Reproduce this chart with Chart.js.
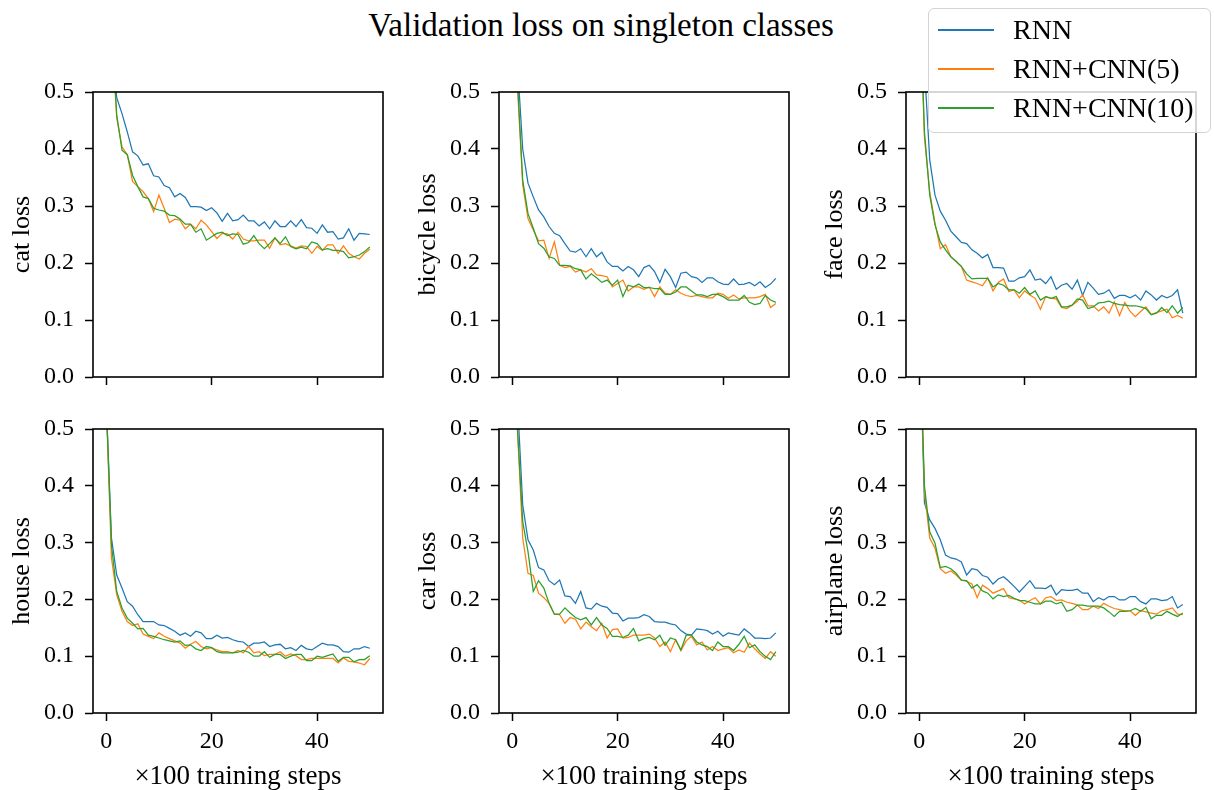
<!DOCTYPE html>
<html>
<head>
<meta charset="utf-8">
<script src="https://cdn.jsdelivr.net/npm/chart.js@4.4.1/dist/chart.umd.min.js"></script>
<style>
  html, body { margin: 0; padding: 0; background: #fff; }
  body { width: 1214px; height: 790px; position: relative; overflow: hidden; font-family: 'Liberation Serif', serif; color: #000; }
  canvas { position: absolute; }
  #title { position: absolute; left: 0; width: 1202px; top: 6px; text-align: center; font-size: 33px; line-height: 38px; }
  #legend { position: absolute; left: 928px; top: 8px; width: 283px; height: 125px; box-sizing: border-box;
            border: 1.5px solid #d4d4d4; border-radius: 6px; background: rgba(255,255,255,0.8); z-index: 5; }
  .lg-row { position: absolute; left: 0; height: 30px; }
  .lg-line { position: absolute; left: 9px; width: 56px; top: 14px; height: 1.5px; }
  .lg-text { position: absolute; left: 84px; top: -1px; font-size: 28px; line-height: 32px; white-space: nowrap; }
</style>
</head>
<body>
<div id="title">Validation loss on singleton classes</div>
<div id="legend"></div>
<script>
// Pasos de entrenamiento (x100) y pérdidas.
const STEPS = [0, 1, 2, 3, 4, 5, 6, 7, 8, 9, 10, 11, 12, 13, 14, 15, 16, 17, 18, 19, 20,
  21, 22, 23, 24, 25, 26, 27, 28, 29, 30, 31, 32, 33, 34, 35, 36, 37, 38, 39, 40,
  41, 42, 43, 44, 45, 46, 47, 48, 49, 50];
const X_TICKS = [0, 20, 40];
const Y_TICKS = [0, 0.1, 0.2, 0.3, 0.4, 0.5];

const SERIES_NAMES = ['RNN', 'RNN+CNN(5)', 'RNN+CNN(10)'];
const CLASSES = ['cat', 'bicycle', 'face', 'house', 'car', 'airplane'];

const CAT_RNN = [0.85, 0.58, 0.49, 0.462, 0.43, 0.395, 0.388, 0.372, 0.374, 0.353, 0.351, 0.336, 0.332, 0.316, 0.322, 0.315, 0.299, 0.299, 0.298, 0.292, 0.297,
  0.288, 0.273, 0.287, 0.274, 0.276, 0.284, 0.274, 0.274, 0.265, 0.272, 0.260, 0.274, 0.264, 0.264, 0.274, 0.264, 0.276, 0.262, 0.261, 0.252,
  0.267, 0.254, 0.255, 0.242, 0.244, 0.260, 0.240, 0.252, 0.251, 0.250];
const CAT_CNN5 = [0.85, 0.61, 0.454, 0.404, 0.39, 0.343, 0.334, 0.325, 0.313, 0.29, 0.319, 0.296, 0.271, 0.277, 0.275, 0.26, 0.268, 0.26, 0.275, 0.267, 0.255,
  0.243, 0.252, 0.251, 0.242, 0.254, 0.242, 0.239, 0.239, 0.24, 0.24, 0.226, 0.244, 0.232, 0.234, 0.23, 0.226, 0.23, 0.229, 0.217, 0.229,
  0.222, 0.232, 0.232, 0.217, 0.23, 0.217, 0.211, 0.207, 0.217, 0.224];
const CAT_CNN10 = [0.85, 0.62, 0.46, 0.398, 0.39, 0.354, 0.334, 0.316, 0.313, 0.296, 0.293, 0.291, 0.284, 0.283, 0.277, 0.268, 0.268, 0.254, 0.26, 0.24, 0.246,
  0.252, 0.254, 0.248, 0.251, 0.25, 0.233, 0.236, 0.248, 0.234, 0.225, 0.234, 0.244, 0.234, 0.246, 0.229, 0.225, 0.228, 0.225, 0.237, 0.234,
  0.223, 0.225, 0.222, 0.222, 0.22, 0.209, 0.211, 0.214, 0.22, 0.228];

const BICYCLE_RNN = [0.8, 0.55, 0.40, 0.34, 0.316, 0.293, 0.281, 0.264, 0.252, 0.248, 0.234, 0.221, 0.219, 0.225, 0.211, 0.225, 0.211, 0.219, 0.202, 0.194, 0.194,
  0.186, 0.194, 0.188, 0.176, 0.192, 0.196, 0.185, 0.166, 0.189, 0.176, 0.157, 0.182, 0.184, 0.176, 0.174, 0.166, 0.174, 0.174, 0.167, 0.163,
  0.162, 0.172, 0.162, 0.163, 0.166, 0.16, 0.167, 0.157, 0.163, 0.173];
const BICYCLE_CNN5 = [0.75, 0.51, 0.337, 0.278, 0.258, 0.239, 0.24, 0.208, 0.237, 0.196, 0.192, 0.194, 0.184, 0.188, 0.184, 0.19, 0.179, 0.178, 0.176, 0.158, 0.164,
  0.17, 0.151, 0.158, 0.158, 0.154, 0.158, 0.141, 0.158, 0.147, 0.145, 0.153, 0.147, 0.143, 0.141, 0.143, 0.141, 0.139, 0.139, 0.147, 0.145,
  0.138, 0.144, 0.137, 0.139, 0.139, 0.139, 0.141, 0.145, 0.122, 0.129];
const BICYCLE_CNN10 = [0.75, 0.52, 0.345, 0.287, 0.261, 0.234, 0.226, 0.211, 0.208, 0.196, 0.196, 0.195, 0.19, 0.188, 0.172, 0.181, 0.174, 0.166, 0.17, 0.161, 0.17,
  0.141, 0.161, 0.158, 0.163, 0.157, 0.157, 0.155, 0.155, 0.145, 0.145, 0.149, 0.158, 0.158, 0.151, 0.144, 0.144, 0.141, 0.145, 0.145, 0.141,
  0.135, 0.135, 0.135, 0.143, 0.131, 0.127, 0.129, 0.143, 0.135, 0.131];

const FACE_RNN = [0.75, 0.545, 0.381, 0.319, 0.291, 0.275, 0.256, 0.246, 0.236, 0.234, 0.223, 0.217, 0.209, 0.215, 0.192, 0.192, 0.191, 0.168, 0.168, 0.174, 0.176,
  0.188, 0.17, 0.172, 0.164, 0.176, 0.154, 0.161, 0.164, 0.154, 0.17, 0.143, 0.166, 0.156, 0.145, 0.147, 0.153, 0.138, 0.143, 0.143, 0.139,
  0.144, 0.135, 0.151, 0.144, 0.135, 0.143, 0.139, 0.143, 0.153, 0.112];
const FACE_CNN5 = [0.7, 0.42, 0.325, 0.27, 0.225, 0.232, 0.211, 0.202, 0.194, 0.17, 0.167, 0.164, 0.16, 0.174, 0.151, 0.166, 0.172, 0.15, 0.153, 0.139, 0.151,
  0.144, 0.138, 0.119, 0.141, 0.138, 0.137, 0.122, 0.12, 0.126, 0.133, 0.144, 0.125, 0.125, 0.116, 0.123, 0.112, 0.132, 0.108, 0.131, 0.115,
  0.106, 0.115, 0.123, 0.11, 0.113, 0.116, 0.119, 0.104, 0.108, 0.103];
const FACE_CNN10 = [0.7, 0.43, 0.319, 0.267, 0.237, 0.223, 0.211, 0.203, 0.194, 0.181, 0.172, 0.173, 0.173, 0.173, 0.158, 0.164, 0.161, 0.153, 0.153, 0.147, 0.157,
  0.145, 0.151, 0.135, 0.141, 0.138, 0.141, 0.123, 0.123, 0.126, 0.137, 0.135, 0.12, 0.123, 0.13, 0.131, 0.133, 0.129, 0.127, 0.126, 0.125,
  0.125, 0.123, 0.12, 0.109, 0.112, 0.122, 0.113, 0.125, 0.112, 0.122];

const HOUSE_RNN = [0.55, 0.308, 0.243, 0.22, 0.196, 0.188, 0.173, 0.161, 0.161, 0.161, 0.155, 0.154, 0.149, 0.144, 0.137, 0.141, 0.135, 0.144, 0.141, 0.131, 0.131,
  0.137, 0.132, 0.133, 0.129, 0.126, 0.125, 0.117, 0.123, 0.123, 0.125, 0.117, 0.12, 0.121, 0.113, 0.115, 0.11, 0.119, 0.113, 0.111, 0.117,
  0.123, 0.12, 0.12, 0.117, 0.108, 0.107, 0.113, 0.113, 0.117, 0.114];
const HOUSE_CNN5 = [0.55, 0.273, 0.208, 0.179, 0.161, 0.154, 0.157, 0.139, 0.135, 0.131, 0.141, 0.135, 0.131, 0.127, 0.123, 0.114, 0.121, 0.126, 0.117, 0.113, 0.115,
  0.111, 0.108, 0.108, 0.106, 0.11, 0.106, 0.117, 0.106, 0.108, 0.101, 0.103, 0.103, 0.108, 0.1, 0.104, 0.101, 0.094, 0.094, 0.096, 0.096,
  0.096, 0.096, 0.096, 0.088, 0.097, 0.091, 0.09, 0.088, 0.085, 0.096];
const HOUSE_CNN10 = [0.55, 0.296, 0.214, 0.185, 0.167, 0.158, 0.148, 0.149, 0.137, 0.135, 0.132, 0.129, 0.127, 0.125, 0.127, 0.119, 0.12, 0.113, 0.11, 0.117, 0.115,
  0.108, 0.106, 0.106, 0.106, 0.107, 0.11, 0.107, 0.1, 0.1, 0.108, 0.098, 0.103, 0.103, 0.096, 0.1, 0.103, 0.103, 0.092, 0.092, 0.1,
  0.098, 0.101, 0.104, 0.091, 0.098, 0.098, 0.09, 0.094, 0.094, 0.101];

const CAR_RNN = [0.8, 0.55, 0.366, 0.305, 0.287, 0.256, 0.252, 0.233, 0.226, 0.234, 0.206, 0.205, 0.193, 0.214, 0.185, 0.183, 0.193, 0.188, 0.186, 0.176, 0.175,
  0.162, 0.167, 0.167, 0.168, 0.173, 0.17, 0.161, 0.16, 0.16, 0.157, 0.155, 0.145, 0.139, 0.137, 0.148, 0.147, 0.145, 0.139, 0.144, 0.135,
  0.141, 0.139, 0.137, 0.148, 0.141, 0.132, 0.132, 0.131, 0.132, 0.141];
const CAR_CNN5 = [0.75, 0.5, 0.308, 0.246, 0.242, 0.211, 0.203, 0.193, 0.174, 0.173, 0.158, 0.168, 0.165, 0.148, 0.16, 0.152, 0.145, 0.158, 0.132, 0.147, 0.148,
  0.132, 0.133, 0.137, 0.137, 0.137, 0.139, 0.132, 0.117, 0.125, 0.108, 0.129, 0.11, 0.127, 0.135, 0.12, 0.125, 0.111, 0.117, 0.11, 0.113,
  0.115, 0.106, 0.111, 0.107, 0.123, 0.113, 0.104, 0.096, 0.108, 0.1];
const CAR_CNN10 = [0.75, 0.5, 0.337, 0.284, 0.214, 0.233, 0.22, 0.193, 0.174, 0.174, 0.185, 0.176, 0.168, 0.164, 0.168, 0.155, 0.168, 0.155, 0.149, 0.135, 0.135,
  0.133, 0.137, 0.149, 0.127, 0.131, 0.133, 0.129, 0.137, 0.119, 0.132, 0.129, 0.111, 0.137, 0.137, 0.125, 0.12, 0.117, 0.11, 0.125, 0.117,
  0.117, 0.11, 0.121, 0.135, 0.115, 0.12, 0.108, 0.1, 0.094, 0.108];

const AIRPLANE_RNN = [0.71, 0.37, 0.34, 0.325, 0.305, 0.278, 0.273, 0.271, 0.266, 0.243, 0.254, 0.252, 0.242, 0.239, 0.227, 0.236, 0.24, 0.232, 0.223, 0.213, 0.223,
  0.233, 0.22, 0.22, 0.219, 0.225, 0.208, 0.217, 0.216, 0.216, 0.218, 0.211, 0.211, 0.196, 0.203, 0.199, 0.205, 0.205, 0.199, 0.199, 0.205,
  0.205, 0.196, 0.192, 0.201, 0.201, 0.198, 0.199, 0.205, 0.185, 0.191];
const AIRPLANE_CNN5 = [0.7, 0.39, 0.308, 0.29, 0.254, 0.246, 0.25, 0.243, 0.234, 0.232, 0.227, 0.203, 0.225, 0.219, 0.211, 0.215, 0.219, 0.203, 0.201, 0.199, 0.192,
  0.198, 0.203, 0.192, 0.203, 0.205, 0.198, 0.199, 0.195, 0.193, 0.19, 0.182, 0.182, 0.188, 0.184, 0.193, 0.188, 0.184, 0.182, 0.18, 0.18,
  0.172, 0.18, 0.178, 0.176, 0.174, 0.18, 0.182, 0.185, 0.174, 0.173];
const AIRPLANE_CNN10 = [0.7, 0.4, 0.319, 0.299, 0.256, 0.258, 0.254, 0.246, 0.234, 0.233, 0.22, 0.226, 0.215, 0.211, 0.201, 0.208, 0.205, 0.207, 0.202, 0.198, 0.198,
  0.195, 0.192, 0.192, 0.197, 0.197, 0.192, 0.195, 0.179, 0.182, 0.19, 0.19, 0.188, 0.188, 0.188, 0.185, 0.178, 0.17, 0.179, 0.179, 0.18,
  0.184, 0.179, 0.186, 0.166, 0.172, 0.172, 0.179, 0.174, 0.17, 0.176];

const LOSSES = {
  cat: [CAT_RNN, CAT_CNN5, CAT_CNN10],
  bicycle: [BICYCLE_RNN, BICYCLE_CNN5, BICYCLE_CNN10],
  face: [FACE_RNN, FACE_CNN5, FACE_CNN10],
  house: [HOUSE_RNN, HOUSE_CNN5, HOUSE_CNN10],
  car: [CAR_RNN, CAR_CNN5, CAR_CNN10],
  airplane: [AIRPLANE_RNN, AIRPLANE_CNN5, AIRPLANE_CNN10],
};

// Colores tab10 de matplotlib
const COLORS = ['#1f77b4', '#ff7f0e', '#2ca02c'];
const FONT = "'Liberation Serif', 'Times New Roman', serif";

// Geometría del área de cada panel (px de la página)
const COL_LEFT = [93, 499, 906];
const ROW_TOP = [92, 429];
const ROW_H = [285, 284];
const AREA_W = 290;
const Y_AXIS_W = 93;
const PAD_TOP = 26; // cubre la mitad de la etiqueta "0.5" + padding de ticks
const PAD_RIGHT = 10;
const X_AXIS_H = [26, 77];

// Recuadro completo (los cuatro "spines")
const framePlugin = {
  id: 'frame',
  afterDraw(chart) {
    const { ctx, chartArea: a } = chart;
    ctx.save();
    ctx.strokeStyle = '#000';
    ctx.lineWidth = 1.6;
    ctx.strokeRect(a.left, a.top, a.width, a.height);
    ctx.restore();
  },
};

function tickGrid() {
  return { drawOnChartArea: false, drawTicks: true, tickLength: 8, tickWidth: 1.5, tickColor: '#000' };
}

function makePanel(name, idx) {
  const col = idx % 3;
  const row = Math.floor(idx / 3);
  const cv = document.createElement('canvas');
  const w = Y_AXIS_W + AREA_W + PAD_RIGHT;
  const h = PAD_TOP + ROW_H[row] + X_AXIS_H[row];
  cv.width = w;
  cv.height = h;
  cv.style.left = (COL_LEFT[col] - Y_AXIS_W) + 'px';
  cv.style.top = (ROW_TOP[row] - PAD_TOP) + 'px';
  cv.style.width = w + 'px';
  cv.style.height = h + 'px';
  document.body.appendChild(cv);

  const series = LOSSES[name];
  const isBottom = row === 1;

  new Chart(cv.getContext('2d'), {
    type: 'line',
    data: {
      datasets: series.map((vals, k) => ({
        label: SERIES_NAMES[k],
        data: STEPS.map((s, i) => ({ x: s, y: vals[i] })),
        borderColor: COLORS[k],
        borderWidth: 1.25,
        pointRadius: 0,
        tension: 0,
        fill: false,
        clip: 0,
        order: 2 - k, // verde encima, como en matplotlib
      })),
    },
    options: {
      responsive: false,
      animation: false,
      events: [],
      layout: { padding: { left: 0, top: PAD_TOP, right: PAD_RIGHT, bottom: 0 } },
      plugins: { legend: { display: false }, tooltip: { enabled: false } },
      scales: {
        x: {
          type: 'linear',
          min: -2.5,
          max: 52.5,
          afterBuildTicks: (s) => { s.ticks = X_TICKS.map((v) => ({ value: v })); },
          afterFit: (s) => { s.height = X_AXIS_H[row]; },
          grid: tickGrid(),
          border: { display: false },
          ticks: {
            display: isBottom,
            autoSkip: false,
            maxRotation: 0,
            padding: 6,
            color: '#000',
            font: { family: FONT, size: 24 },
            callback: (v) => String(v),
          },
          title: {
            display: isBottom,
            text: '×100 training steps',
            color: '#000',
            font: { family: FONT, size: 27, lineHeight: 1 },
            padding: { top: 0, bottom: 0 },
          },
        },
        y: {
          type: 'linear',
          min: 0,
          max: 0.5,
          afterBuildTicks: (s) => { s.ticks = Y_TICKS.map((v) => ({ value: v })); },
          afterFit: (s) => { s.width = Y_AXIS_W; },
          grid: tickGrid(),
          border: { display: false },
          ticks: {
            autoSkip: false,
            padding: 11,
            color: '#000',
            font: { family: FONT, size: 24 },
            callback: (v) => v.toFixed(1),
          },
          title: {
            display: true,
            text: name + ' loss',
            color: '#000',
            font: { family: FONT, size: 26, lineHeight: 1.2 },
            padding: { top: 7, bottom: 0 },
          },
        },
      },
    },
    plugins: [framePlugin],
  });
}

CLASSES.forEach(makePanel);

// Leyenda de figura (arriba a la derecha)
const legend = document.getElementById('legend');
SERIES_NAMES.forEach((n, k) => {
  const r = document.createElement('div');
  r.className = 'lg-row';
  r.style.top = (6 + k * 39) + 'px';
  r.innerHTML = '<div class="lg-line" style="background:' + COLORS[k] + '"></div><div class="lg-text">' + n + '</div>';
  legend.appendChild(r);
});
</script>
</body>
</html>
